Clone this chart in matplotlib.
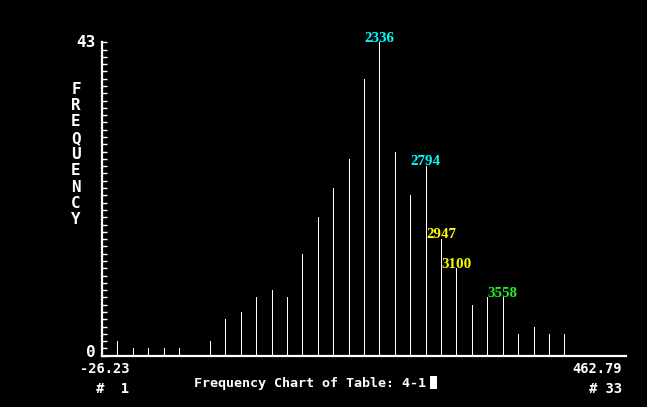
import matplotlib
matplotlib.use("Agg")
import matplotlib.pyplot as plt
from matplotlib.patches import Rectangle
from matplotlib.transforms import ScaledTranslation

# ---- data ----
slots = list(range(1, 34))
counts = [2, 1, 1, 1, 1, 0, 2, 5, 6, 8, 9, 8, 14, 19, 23, 27, 38, 43, 28, 22,
          26, 16, 12, 7, 8, 8, 3, 4, 3, 3, 0, 0, 0]
label_slots = [18, 21, 22, 23, 26]
label_texts = ["2336", "2794", "2947", "3100", "3558"]
label_colors = ["#00FFFF", "#00FFFF", "#FFFF00", "#FFFF00", "#22EE22"]
y_max = 43
x_min_text = "-26.23"
x_max_text = "462.79"
first_class = "#  1"
last_class = "# 33"
title_text = "Frequency Chart of Table: 4-1"
ylabel_text = "FREQUENCY"

W, H = 647, 407
DPI = 100
fig = plt.figure(figsize=(W / DPI, H / DPI), dpi=DPI, facecolor="black")
ax = fig.add_axes([102 / W, 1 - 355.7 / H, (626 - 102) / W, (355.7 - 42.3) / H])
ax.set_facecolor("black")

ax.vlines(slots, 0, counts, colors="white", linewidth=0.72, antialiased=False)
ax.set_xlim(0, 34)
ax.set_ylim(0, y_max)

for s in ["top", "right"]:
    ax.spines[s].set_visible(False)
for s in ["left", "bottom"]:
    ax.spines[s].set_color("white")
    ax.spines[s].set_linewidth(1.6)

ax.set_xticks([])
ax.set_yticks(range(0, y_max + 1))
ax.set_yticklabels(["0"] + [""] * (y_max - 1) + [str(y_max)])
ax.tick_params(axis="y", direction="in", length=3.8, width=1.0, color="white",
               labelcolor="white", pad=4.5)
mono = dict(family="DejaVu Sans Mono", weight="bold", color="white")
for lab in ax.get_yticklabels():
    lab.set_fontfamily("DejaVu Sans Mono")
    lab.set_fontweight("bold")
    lab.set_fontsize(11.5)
ylabs = ax.get_yticklabels()
ylabs[0].set_transform(ylabs[0].get_transform() + ScaledTranslation(0, 5 / DPI, fig.dpi_scale_trans))
ylabs[-1].set_transform(ylabs[-1].get_transform() + ScaledTranslation(0, 1 / DPI, fig.dpi_scale_trans))

# value labels above selected bars
for s, t, c in zip(label_slots, label_texts, label_colors):
    ax.text(s, counts[s - 1] + 0.1, t, color=c, ha="center", va="baseline",
            family="Liberation Serif", weight="bold", fontsize=10.8)

def fx(x):
    return x / W

def fy(y):
    return 1 - y / H

# vertical stacked axis title
for i, ch in enumerate(ylabel_text):
    fig.text(fx(76), fy(89.5 + i * 16.25), ch, ha="center", va="center", fontsize=11.5, **mono)

fig.text(fx(129), fy(373), x_min_text, ha="right", va="baseline", fontsize=9.9, **mono)
fig.text(fx(129), fy(393), first_class, ha="right", va="baseline", fontsize=9.9, **mono)
fig.text(fx(622), fy(373), x_max_text, ha="right", va="baseline", fontsize=9.9, **mono)
fig.text(fx(622), fy(393), last_class, ha="right", va="baseline", fontsize=9.9, **mono)
fig.text(fx(194), fy(387.5), title_text, ha="left", va="baseline", fontsize=9.6, **mono)

# text cursor block
fig.patches.append(Rectangle((fx(429.5), fy(389)), 7.5 / W, 13 / H,
                             transform=fig.transFigure, facecolor="white",
                             edgecolor="none"))

fig.savefig("out.png", dpi=DPI, facecolor="black")
